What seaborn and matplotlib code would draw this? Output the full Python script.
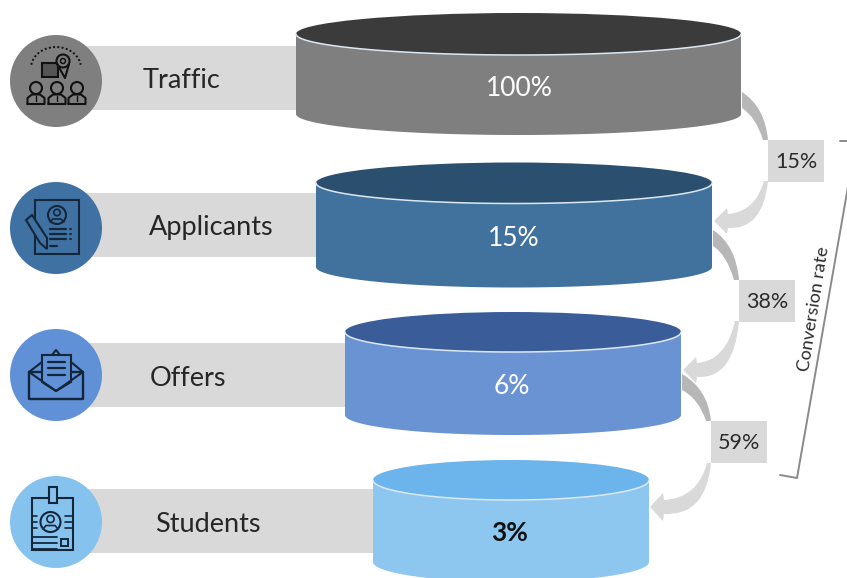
import numpy as np
import pandas as pd
import matplotlib
matplotlib.use("Agg")
import matplotlib.pyplot as plt
from matplotlib.patches import Circle, Polygon, PathPatch, Rectangle, Ellipse
from matplotlib.path import Path
import seaborn as sns

# Funnel content
stages = ["Traffic", "Applicants", "Offers", "Students"]
shares = ["100%", "15%", "6%", "3%"]
conversions = ["15%", "38%", "59%"]

# Layout in pixel units
row_y = [78, 225, 375, 521]
band_left = 56
band_right = [300, 320, 350, 378]
icon_y = [81, 228, 375, 522]
label_x = [182, 211, 188, 208]
cyl_left = [296, 316, 345, 373]
cyl_right = [741, 712, 681, 649]
cyl_top = [34, 183, 332, 480]
cyl_ry = [21, 20.5, 20, 20]
cyl_drop = [80, 84, 83, 82]
share_pos = [(519, 89), (514, 238), (512, 386), (510, 533)]

top_colors = ["#3b3b3b", "#2b4f6e", "#3a5c98", "#6cb5ec"]
body_colors = ["#7f7f7f", "#41729d", "#6a93d3", "#8dc7ef"]
circle_colors = ["#7f7f7f", "#3f72a3", "#6090d6", "#86c2ee"]
ICON = "#14263a"

sns.set_theme(style="white")
plt.rcParams["font.family"] = ["Lato", "DejaVu Sans"]

fig, ax = plt.subplots(figsize=(8.47, 5.78), dpi=100)
ax.set_position([0, 0, 1, 1])

# Grey label bands behind the icons and cylinders
bands = pd.DataFrame({"right": band_right, "y": row_y})
sns.barplot(data=bands, x="right", y="y", orient="h", native_scale=True,
            width=65 / 147, color="#d9d9d9", saturation=1, ax=ax, legend=False, zorder=1)
ax.set_xlim(0, 847)
ax.set_ylim(578, 0)
ax.axis("off")
for bar in ax.patches:
    bar.set_linewidth(0)
    bar.set_x(band_left)
    bar.set_width(bar.get_width() - band_left)


def cylinder(left, right, cy, ry, drop, top, body):
    cx, rx = (left + right) / 2, (right - left) / 2
    t = np.linspace(0, np.pi, 80)
    arc_x, arc_y = cx + rx * np.cos(t), ry * np.sin(t)
    outline = np.r_[np.c_[arc_x, cy + drop + arc_y], np.c_[arc_x[::-1], cy + arc_y[::-1]]]
    ax.add_patch(Polygon(outline, closed=True, fc=body, ec="none", zorder=3))
    ax.add_patch(Ellipse((cx, cy), 2 * rx, 2 * ry, fc=top, ec="none", zorder=4))
    ax.plot(arc_x, cy + arc_y, color="#dbe8f2", lw=1.1, zorder=5)


for i in range(4):
    cylinder(cyl_left[i], cyl_right[i], cyl_top[i], cyl_ry[i], cyl_drop[i],
             top_colors[i], body_colors[i])
    ax.add_patch(Circle((56, icon_y[i]), 46, fc=circle_colors[i], ec="none", zorder=3))
    ax.text(label_x[i], row_y[i] + 3, stages[i], ha="center", va="center",
            fontsize=19.5, color="#262626", zorder=6)
    last = i == 3
    ax.text(*share_pos[i], shares[i], ha="center", va="center", fontsize=19,
            color="#111111" if last else "white", weight="bold" if last else "normal", zorder=6)


M, C, L = Path.MOVETO, Path.CURVE3, Path.LINETO


def curve(points, codes, color, z=2):
    ax.add_patch(PathPatch(Path(points, codes), fc=color, ec="none", zorder=z))


def flow(x0, y0, bx, by0, by1, tip_x, tip_y, head):
    # Darker taper leaving the upper cylinder
    curve([(x0, y0), (bx - 3, y0 + 15), (bx, by0), (bx - 5, by0),
           (bx - 12, y0 + 25), (x0, y0 + 16), (x0, y0)],
          [M, C, C, L, C, C, L], "#b7b7b7")
    # Lighter arrow running into the next cylinder
    curve([(bx, by1), (bx - 5, tip_y + 9), (tip_x + 14, tip_y + 7),
           (tip_x + 13, tip_y + head), (tip_x, tip_y), (tip_x + 13, tip_y - head),
           (tip_x + 14, tip_y - 7), (bx - 13, tip_y - 9), (bx - 4, by1), (bx, by1)],
          [M, C, C, L, L, L, L, C, C, L], "#d9d9d9")


flow(742, 92, 768, 140, 181, 714, 221, 13)
flow(713, 230, 739, 280, 321, 683, 370, 13)
flow(682, 374, 711, 421, 463, 650, 507, 14)

# Conversion rate boxes
for (x0, y0), value in zip([(768, 140), (739, 280), (711, 421)], conversions):
    ax.add_patch(Rectangle((x0, y0), 56, 41.5, fc="#d9d9d9", ec="none", zorder=3))
    ax.text(x0 + 28, y0 + 22, value, ha="center", va="center", fontsize=15.5,
            color="#2b2b2b", zorder=6)

# Bracket spanning the three conversion steps
ax.plot([780, 797, 856, 840], [475, 478, 141, 141], color="#8a8a8a", lw=1.4, zorder=2)
ax.text(814, 309, "Conversion rate", rotation=81, ha="center", va="center",
        fontsize=13, color="#2b2b2b", zorder=6)


def stroke(xs, ys, lw=1.5, color=ICON, **kw):
    ax.plot(xs, ys, color=color, lw=lw, zorder=7, solid_capstyle="round", **kw)


def ring(x, y, r, lw=1.5, color=ICON, fc="none"):
    ax.add_patch(Circle((x, y), r, fc=fc, ec=color, lw=lw, zorder=7))


def box(x0, y0, x1, y1, lw=1.5, color=ICON, fc="none"):
    ax.add_patch(Rectangle((x0, y0), x1 - x0, y1 - y0, fc=fc, ec=color, lw=lw, zorder=7))


# Traffic icon
dark = "#111111"
t = np.linspace(np.pi * 1.05, np.pi * 1.95, 30)
ax.plot(56 + 25 * np.cos(t), 68 + 21 * np.sin(t), ls=(0, (1, 1.2)), color=dark, lw=1.4, zorder=7)
box(42, 63, 58, 77, color=dark, fc="#555555")
ring(63, 61, 6.5, color=dark, fc="#7f7f7f")
ring(63, 61, 2.5, color=dark, lw=1.1)
stroke([57, 65, 69], [64, 78, 64], color=dark)
for px in [36, 57, 77]:
    ring(px, 88, 6, color=dark, lw=1.5)
    stroke([px - 8.5, px - 8.5, px - 4, px + 4, px + 8.5, px + 8.5, px - 8.5],
           [104, 98, 94.5, 94.5, 98, 104, 104], color=dark)
    stroke([px, px], [96, 101], color=dark, lw=1)

# Applicants icon
box(35, 200, 79, 254)
ring(57, 215, 9)
ring(57, 212.5, 3.2, lw=1.2)
stroke([50, 53, 61, 64], [222, 219, 219, 222], lw=1.2)
for ly, x1 in zip([229, 234, 239, 246], [66, 66, 66, 57]):
    stroke([50, x1], [ly, ly], lw=1.6)
for ly in [229, 234, 239]:
    stroke([70, 71], [ly, ly], lw=1.4)
pencil = Polygon([(26, 220), (32, 215), (47, 238), (47, 249), (40, 243)], closed=True,
                 fc="#3f72a3", ec=ICON, lw=1.5, zorder=8)
ax.add_patch(pencil)

# Offers icon
stroke([29, 29, 83, 83, 29], [372, 399, 399, 372, 372], lw=1.7)
stroke([29, 42], [372, 362])
stroke([83, 71], [372, 362])
ax.add_patch(Polygon([(42, 355), (71, 355), (71, 382), (56, 391), (42, 382)], closed=True,
                     fc="#6090d6", ec=ICON, lw=1.5, zorder=7))
for ly in [362, 368, 375]:
    stroke([48, 65], [ly, ly], lw=1.6)
stroke([52, 56, 60], [355, 350, 355])
stroke([29, 56, 83], [372, 391, 372], lw=1.5)

# Students icon
box(32, 498, 73, 550)
box(49, 487, 57, 503, fc="#86c2ee")
ring(50.5, 522, 10)
ring(50.5, 519, 3.6, lw=1.2)
stroke([43, 46, 55, 58], [529, 525.5, 525.5, 529], lw=1.2)
for ly in [516, 522, 528]:
    stroke([32, 37], [ly, ly], lw=1.2)
    stroke([65, 72], [ly, ly], lw=1.2)
for ly in [537, 543, 549]:
    stroke([33, 57], [ly, ly], lw=1.3)
box(61, 539, 68, 546, lw=1.4)

fig.savefig("out.png", dpi=100)
